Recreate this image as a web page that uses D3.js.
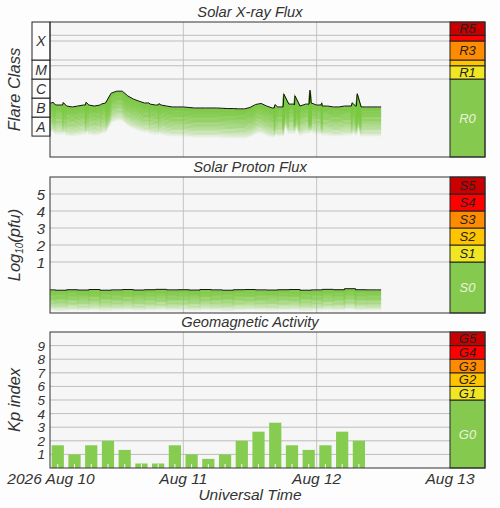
<!DOCTYPE html>
<html><head><meta charset="utf-8">
<script src="https://cdn.jsdelivr.net/npm/d3@7"></script>
<style>
body{margin:0;background:#fdfdfd}
text{font-family:"Liberation Sans",Arial,sans-serif;font-style:italic;fill:#333}
</style></head><body>
<div id="chart"></div>
<script>
// hourly X-ray flux (W/m2) from 2026-08-10 00:00 UT
const xrayHourly = [5.5e-7,4.3e-7,4.3e-7,3.8e-7,3.4e-7,3.8e-7,4.3e-7,4.3e-7,3.8e-7,4.3e-7,
  5.5e-7,1.8e-6,2.3e-6,2.3e-6,1.3e-6,8.9e-7,6.9e-7,5.5e-7,4.8e-7,4.3e-7,
  4.3e-7,3.8e-7,3.4e-7,3.4e-7,3.4e-7,3.2e-7,3.0e-7,3.0e-7,3.0e-7,3.0e-7,
  3.0e-7,2.9e-7,2.8e-7,2.8e-7,2.7e-7,2.7e-7,3.2e-7,4.6e-7,5.2e-7,3.8e-7,
  3.0e-7,3.4e-7,4.3e-7,4.8e-7,4.3e-7,3.8e-7,4.8e-7,5.5e-7,4.3e-7,3.8e-7,
  3.8e-7,3.4e-7,3.4e-7,3.8e-7,3.8e-7,3.8e-7,3.4e-7,3.4e-7,3.4e-7,3.4e-7,3.4e-7]
const xrayEnd = 59.6
// short flares: [hour, flux]
const xraySpikes = [[0.5,6.2e-7],[2.4,5.8e-7],[6.5,6e-7],[9.2,4.8e-7],[17.8,5.6e-7],[19.6,5.1e-7],
  [40.5,4.5e-7],[42.1,1.6e-6],[44.1,1.3e-6],[46.8,2.6e-6],[48.9,5.4e-7],[54.4,5.6e-7],[55.3,1.7e-6]]
// log10 proton flux (pfu), every 2 hours
const protonLog = [-0.64,-0.66,-0.63,-0.65,-0.62,-0.66,-0.64,-0.62,-0.65,-0.63,-0.61,-0.64,-0.63,-0.65,-0.62,
  -0.64,-0.66,-0.63,-0.62,-0.64,-0.65,-0.63,-0.62,-0.66,-0.64,-0.61,-0.63,-0.57,-0.63,-0.64,-0.64]
// 3-hour Kp index
const kp = [1.67,1,1.67,2,1.33,0.33,0.33,1.67,1,0.67,1,2,2.67,3.33,1.67,1.33,1.67,2.67,2]
const dayLabels = ["2026 Aug 10","Aug 11","Aug 12","Aug 13"]
const xrayMin = Math.pow(10, -9.1)
const rScale = [["R0",xrayMin,1e-5,"#85c94f"],["R1",1e-5,5e-5,"#f0e623"],["",5e-5,1e-4,"#ffc400"],
  ["R3",1e-4,1e-3,"#ff8c00"],["",1e-3,2e-3,"#ff0000"],["R5",2e-3,1e-2,"#c80000"]]
const sScale = [["S0",-2,1,"#85c94f"],["S1",1,2,"#f0e623"],["S2",2,3,"#ffc400"],["S3",3,4,"#ff8c00"],["S4",4,5,"#ff0000"],["S5",5,6,"#c80000"]]
const gScale = [["G0",0,5,"#85c94f"],["G1",5,6,"#f0e623"],["G2",6,7,"#ffc400"],["G3",7,8,"#ff8c00"],["G4",8,9,"#ff0000"],["G5",9,10,"#c80000"]]
const flareClasses = [["A",1e-8,1e-7],["B",1e-7,1e-6],["C",1e-6,1e-5],["M",1e-5,1e-4],["X",1e-4,1e-2]]

const W = 500, H = 508, L = 50, R = 450, SB = 485
const svg = d3.select("#chart").append("svg").attr("width", W).attr("height", H)
const x = d3.scaleLinear().domain([0, 72]).range([L, R])
const green = "#7cc843"

function panel(top, bottom, title, y, gridVals, scale, ylab) {
    const g = svg.append("g")
    g.append("rect").attr("x", L).attr("y", top).attr("width", R - L).attr("height", bottom - top).attr("fill", "#f6f6f6")
    g.selectAll(".vg").data([24, 48]).enter().append("line")
        .attr("x1", d => x(d)).attr("x2", d => x(d)).attr("y1", top).attr("y2", bottom).attr("stroke", "#c4c4c4")
    g.selectAll(".hg").data(gridVals).enter().append("line")
        .attr("x1", L).attr("x2", SB).attr("y1", d => y(d)).attr("y2", d => y(d)).attr("stroke", "#bdbdbd")
    g.append("text").attr("x", 250).attr("y", top - 5).attr("text-anchor", "middle").attr("font-size", 14.7).text(title)
    const sb = g.selectAll(".sb").data(scale).enter().append("g")
    sb.append("rect").attr("x", R).attr("width", SB - R)
        .attr("y", d => y(d[2])).attr("height", d => y(d[1]) - y(d[2])).attr("fill", d => d[3]).attr("stroke", "#222")
    sb.append("text").attr("x", (R + SB) / 2).attr("y", d => (y(d[1]) + y(d[2])) / 2 + 4.5)
        .attr("text-anchor", "middle").attr("font-size", 13)
        .style("fill", d => d[0].endsWith("0") ? "#e8f5dc" : "#222").text(d => d[0])
    g.append("text").attr("transform", `translate(20,${(top + bottom) / 2}) rotate(-90)`)
        .attr("text-anchor", "middle").attr("font-size", 16.5).html(ylab)
    return g
}

function fadeLine(g, pts, lineGen, depth, clipBottom) {
    const id = "c" + Math.round(clipBottom)
    svg.append("clipPath").attr("id", id).append("rect").attr("x", L).attr("y", 0).attr("width", R - L).attr("height", clipBottom)
    const f = g.append("g").attr("clip-path", `url(#${id})`)
    for (let i = depth; i >= 1; i--) {
        f.append("path").datum(pts).attr("d", lineGen).attr("fill", "none")
            .attr("stroke", green).attr("stroke-width", 2)
            .attr("opacity", Math.pow(1 - i / depth, 0.8))
            .attr("transform", `translate(0,${i * 1.3})`)
    }
    f.append("path").datum(pts).attr("d", lineGen).attr("fill", "none").attr("stroke", "#111").attr("stroke-width", 1)
}

// X-ray panel
const yX = d3.scaleLog().domain([xrayMin, 1e-2]).range([157, 22])
const gX = panel(22, 157, "Solar X-ray Flux", yX, [2e-3, 1e-3, 1e-4, 5e-5, 1e-5], rScale, "Flare Class")
const xrayPts = xrayHourly.map((v, i) => [Math.min(i, xrayEnd), v])
xraySpikes.forEach(s => { xrayPts.push([s[0] - 0.15, null]); xrayPts.push(s) })
xrayPts.sort((a, b) => a[0] - b[0])
xrayPts.forEach((p, i) => { if (p[1] === null) p[1] = xrayPts[i - 1][1] })
const lineX = d3.line().x(d => x(d[0])).y(d => yX(d[1]))
fadeLine(gX, xrayPts, lineX, 23, 157)
gX.selectAll(".fc").data(flareClasses).enter().append("rect").attr("x", 32).attr("width", L - 32)
    .attr("y", d => yX(d[2])).attr("height", d => yX(d[1]) - yX(d[2])).attr("fill", "#fdfdfd").attr("stroke", "#222")
gX.selectAll(".fct").data(flareClasses).enter().append("text").attr("x", 41)
    .attr("y", d => (yX(d[1]) + yX(d[2])) / 2 + 5).attr("text-anchor", "middle").attr("font-size", 14).text(d => d[0])
gX.append("rect").attr("x", L).attr("y", 22).attr("width", SB - L).attr("height", 135).attr("fill", "none").attr("stroke", "#333")

// proton panel
const yP = d3.scaleLinear().domain([-2, 6]).range([313, 177])
const gP = panel(177, 313, "Solar Proton Flux", yP, [1, 2, 3, 4, 5], sScale, "Log<tspan font-size='10' dy='3'>10</tspan><tspan dy='-3'>(pfu)</tspan>")
const protonPts = protonLog.map((v, i) => [i * 2, v])
protonPts[protonPts.length - 1][0] = xrayEnd
fadeLine(gP, protonPts, d3.line().x(d => x(d[0])).y(d => yP(d[1])).curve(d3.curveStep), 16, 312)
gP.selectAll(".pt").data([1, 2, 3, 4, 5]).enter().append("text").attr("x", 45).attr("y", d => yP(d) + 5.5)
    .attr("text-anchor", "end").attr("font-size", 15).text(d => d)
gP.append("rect").attr("x", L).attr("y", 177).attr("width", SB - L).attr("height", 136).attr("fill", "none").attr("stroke", "#333")

// geomagnetic panel
const yG = d3.scaleLinear().domain([0, 10]).range([468, 332])
const gG = panel(332, 468, "Geomagnetic Activity", yG, d3.range(1, 10), gScale, "Kp index")
const band = d3.scaleBand().domain(d3.range(kp.length)).range([x(0), x(kp.length * 3)]).paddingInner(0.27).paddingOuter(0.1)
gG.selectAll(".bar").data(kp).enter().append("rect").attr("x", (d, i) => band(i)).attr("width", band.bandwidth())
    .attr("y", d => yG(d)).attr("height", d => yG(0) - yG(d)).attr("fill", "#86cc50")
gG.selectAll(".bt").data(kp).enter().append("line").attr("x1", (d, i) => band(i) + band.bandwidth() / 2)
    .attr("x2", (d, i) => band(i) + band.bandwidth() / 2).attr("y1", 464).attr("y2", 468).attr("stroke", "#fff").attr("stroke-width", 1)
gG.selectAll(".gt").data(d3.range(1, 10)).enter().append("text").attr("x", 45).attr("y", d => yG(d) + 5)
    .attr("text-anchor", "end").attr("font-size", 13.5).text(d => d)
gG.append("rect").attr("x", L).attr("y", 332).attr("width", SB - L).attr("height", 136).attr("fill", "none").attr("stroke", "#333")

svg.selectAll(".dl").data(dayLabels).enter().append("text").attr("x", (d, i) => x(i * 24)).attr("y", 484)
    .attr("text-anchor", "middle").attr("font-size", 15.5).attr("dx", (d, i) => i === 0 ? 1 : 0).text(d => d)
svg.append("text").attr("x", 250).attr("y", 500).attr("text-anchor", "middle").attr("font-size", 15.5).text("Universal Time")
</script></body></html>
